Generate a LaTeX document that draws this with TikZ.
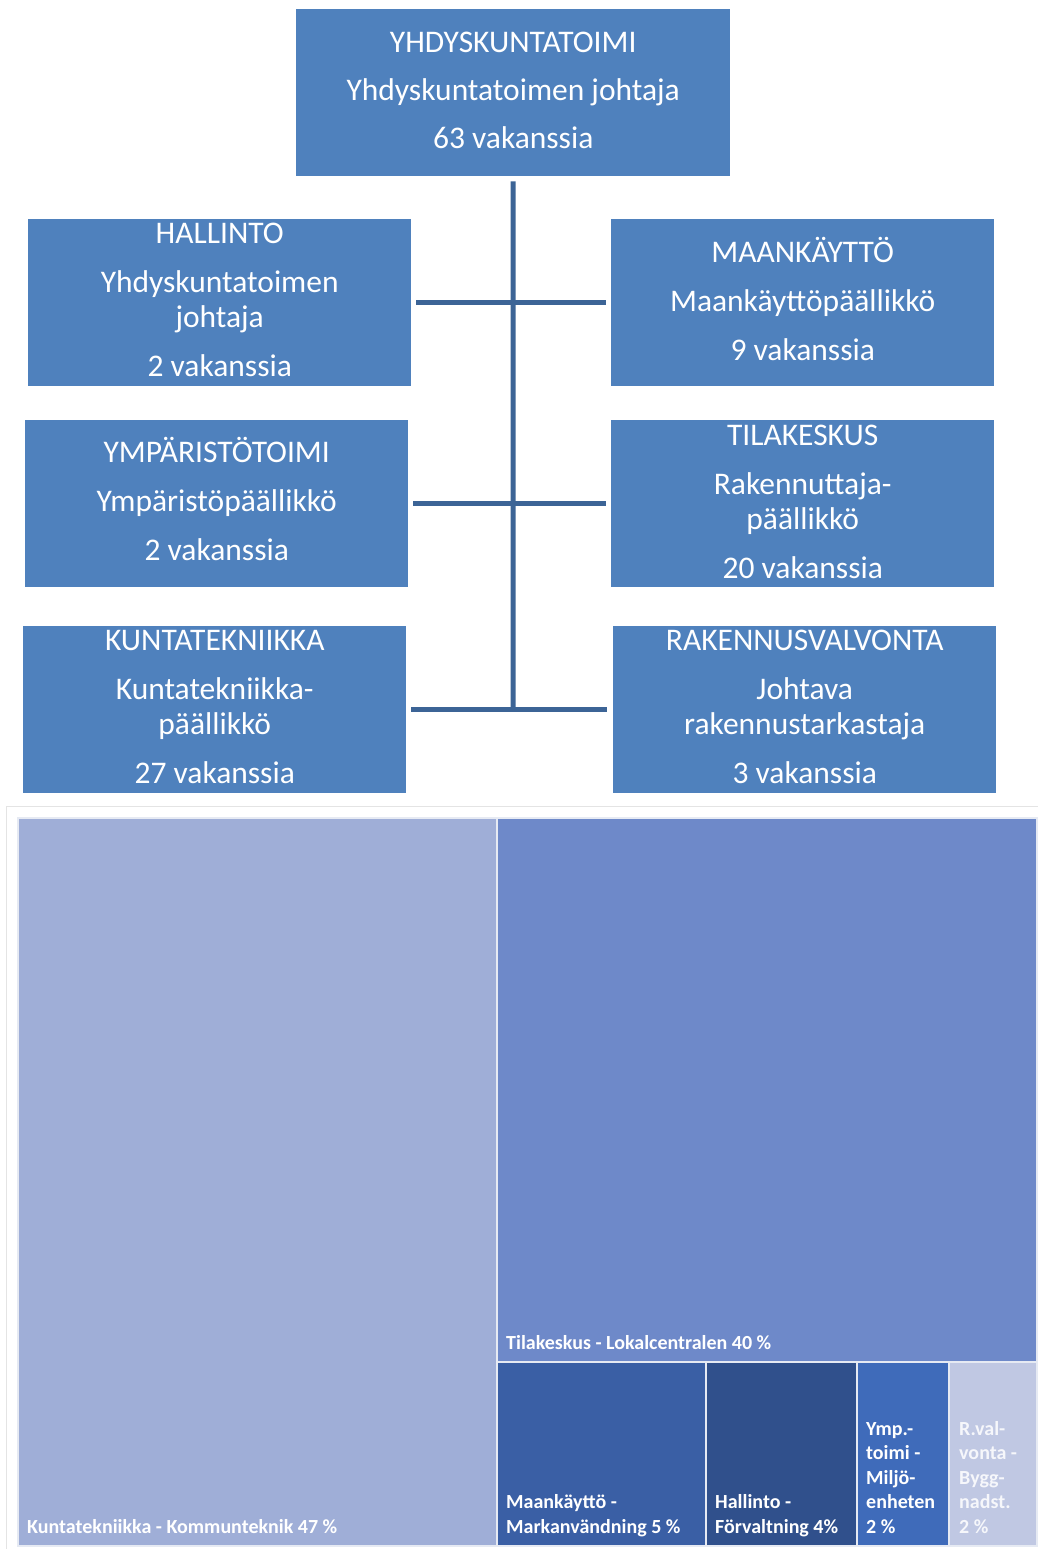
\documentclass[tikz,border=0pt]{standalone}
\usepackage{fontspec}
\setmainfont{Carlito}
\definecolor{boxblue}{HTML}{4F81BD}
\definecolor{linkblue}{HTML}{3C6496}
\definecolor{framegray}{HTML}{E4E4E4}
\definecolor{ktcol}{HTML}{9FAED7}
\definecolor{tkcol}{HTML}{6E89C9}
\definecolor{mkcol}{HTML}{3A5FA5}
\definecolor{hacol}{HTML}{30508C}
\definecolor{ymcol}{HTML}{3F6BBA}
\definecolor{rvcol}{HTML}{C0C8E3}
\definecolor{sepcol}{HTML}{E6EAF3}
\begin{document}
\begin{tikzpicture}[x=1pt,y=-1pt]
\tikzset{
  unitbox/.style={fill=boxblue, minimum width=383pt, minimum height=167pt, inner sep=0pt, anchor=north west},
  boxtext/.style={text=white, align=center, inner sep=0pt, font=\fontsize{31.5}{35}\selectfont},
  link/.style={draw=linkblue, line width=5pt},
  tile/.style={fill=#1, draw=sepcol, line width=1.5pt},
  tlabel/.style={text=white, font=\bfseries\fontsize{20}{24.5}\selectfont, align=left, inner sep=0pt, anchor=base west}
}
\useasboundingbox (0,0) rectangle (1038,1549);
\fill[white] (0,0) rectangle (1038,1549);

% org chart
\node[unitbox, minimum width=434pt, label={[boxtext, yshift=2.5pt]center:{YHDYSKUNTATOIMI\\[13pt]Yhdyskuntatoimen johtaja\\[13pt]63 vakanssia}}] (top) at (296,9) {};
\node[unitbox, label={[boxtext, yshift=2.5pt]center:{HALLINTO\\[14pt]Yhdyskuntatoimen\\johtaja\\[14pt]2 vakanssia}}] (hal) at (28,219) {};
\node[unitbox, label={[boxtext, yshift=4pt]center:{MAANKÄYTTÖ\\[14pt]Maankäyttöpäällikkö\\[14pt]9 vakanssia}}] (maa) at (611,219) {};
\node[unitbox, label={[boxtext, yshift=4.5pt]center:{YMPÄRISTÖTOIMI\\[14pt]Ympäristöpäällikkö\\[14pt]2 vakanssia}}] (ymp) at (25,420) {};
\node[unitbox, label={[boxtext, yshift=2pt]center:{TILAKESKUS\\[14pt]Rakennuttaja-\\päällikkö\\[14pt]20 vakanssia}}] (til) at (611,420) {};
\node[unitbox, label={[boxtext, yshift=2.5pt]center:{KUNTATEKNIIKKA\\[14pt]Kuntatekniikka-\\päällikkö\\[14pt]27 vakanssia}}] (kun) at (23,626) {};
\node[unitbox, label={[boxtext, yshift=2.5pt]center:{RAKENNUSVALVONTA\\[14pt]Johtava\\rakennustarkastaja\\[14pt]3 vakanssia}}] (rak) at (613,626) {};

\coordinate (trunkend) at (513,711.5);
\draw[link, shorten <=5pt] (top.south) -- (trunkend);
\draw[link, shorten <=5pt, shorten >=5pt] (hal.east) -- (maa.west);
\draw[link, shorten <=5pt, shorten >=5pt] (ymp.east) -- (til.west);
\draw[link, shorten <=5pt, shorten >=6pt] (kun.east) -- (rak.west);

% treemap
\draw[framegray, line width=1pt] (6,806) -- (1038,806);
\draw[framegray, line width=1pt] (6,806) -- (6,1549);
\path[tile=ktcol] (18,818) rectangle (497,1546);
\path[tile=tkcol] (497,818) rectangle (1037,1362);
\path[tile=mkcol] (497,1362) rectangle (706,1546);
\path[tile=hacol] (706,1362) rectangle (857,1546);
\path[tile=ymcol] (857,1362) rectangle (949,1546);
\path[tile=rvcol] (949,1362) rectangle (1037,1546);

\node[tlabel] (lkt) at (27,1533) {Kuntatekniikka - Kommunteknik 47 \%};
\node[tlabel] (ltk) at (506,1349) {Tilakeskus - Lokalcentralen 40 \%};
\node[tlabel] (lmk) at (506,1533) {Maankäyttö -\\Markanvändning 5 \%};
\node[tlabel] (lha) at (715,1533) {Hallinto -\\Förvaltning 4\%};
\node[tlabel] (lym) at (866,1533) {Ymp.-\\toimi -\\Miljö-\\enheten\\2 \%};
\node[tlabel, text=white!85!rvcol] (lrv) at (959,1533) {R.val-\\vonta -\\Bygg-\\nadst.\\2 \%};
\end{tikzpicture}
\end{document}
